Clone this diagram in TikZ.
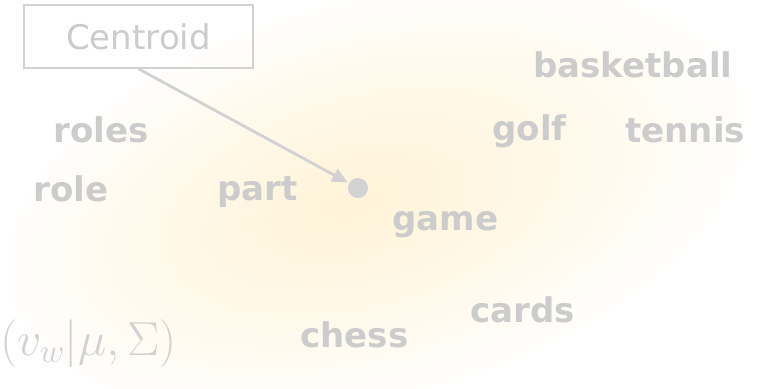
\documentclass[tikz,border=0pt]{standalone}
\usepackage{fix-cm}
\usepackage{amsmath, amssymb}
\usepackage{fontspec}
\setsansfont{DejaVu Sans}
\usepackage{tikz}
\usetikzlibrary{arrows.meta, positioning, shapes.geometric}
\definecolor{wordgray}{HTML}{CCCCCC}
\definecolor{linegray}{HTML}{D2D2D2}
\definecolor{glowyellow}{RGB}{255,244,218}
\pgfdeclareradialshading{glow}{\pgfpoint{-3bp}{0bp}}{%
  color(0bp)=(glowyellow); color(6bp)=(glowyellow!85!white);
  color(16bp)=(glowyellow!45!white); color(25bp)=(white); color(50bp)=(white)}

\begin{document}
\begin{tikzpicture}[
      x=0.025cm, y=-0.025cm,
      word/.style={font=\sffamily\bfseries\fontsize{24.2}{29}\selectfont, text=wordgray,
                   inner sep=0pt, anchor=base west},
      labelbox/.style={draw=linegray, line width=1.2pt, text=wordgray,
                       font=\sffamily\fontsize{24.2}{29}\selectfont,
                       minimum width=5.725cm, minimum height=1.575cm, inner sep=0pt},
      dot/.style={circle, fill=linegray, inner sep=0pt, minimum size=0.5cm},
      arr/.style={-{Triangle[length=11pt, width=10pt]}, line width=2pt, linegray},
    ]
    \useasboundingbox (0,0) rectangle (774,388);
    % --- the soft glow of the distribution ----------------------------
    \begin{scope}[transform canvas={rotate around={15:(395,192)}}]
      \shade[shading=glow] (395,192) ellipse [x radius=9.9cm, y radius=5.1cm];
    \end{scope}
    % --- words scattered round the mean -------------------------------
    \node[word] (basketball) at (533,77)  {basketball};
    \node[word] (roles)      at (53,142)  {roles};
    \node[word] (golf)       at (492,140) {golf};
    \node[word] (tennis)     at (625,142) {tennis};
    \node[word] (role)       at (33,201)  {role};
    \node[word] (part)       at (217,200) {part};
    \node[word] (game)       at (392,230) {game};
    \node[word] (cards)      at (470,322) {cards};
    \node[word] (chess)      at (300,347) {chess};
    % --- the density at the lower left --------------------------------
    \node[anchor=base west, inner sep=0pt, text=linegray,
          font=\fontsize{34}{41}\selectfont] (dens) at (0,355)
      {$(v_w|\mu,\Sigma)$};
    % --- centroid label and its pointer -------------------------------
    \node[dot] (mean) at (358,188) {};
    \node[labelbox] (centroid) at (138.5,36.5) {Centroid};
    \draw[arr, shorten >=1pt] (centroid.south) -- (mean);
  \end{tikzpicture}
\end{document}
